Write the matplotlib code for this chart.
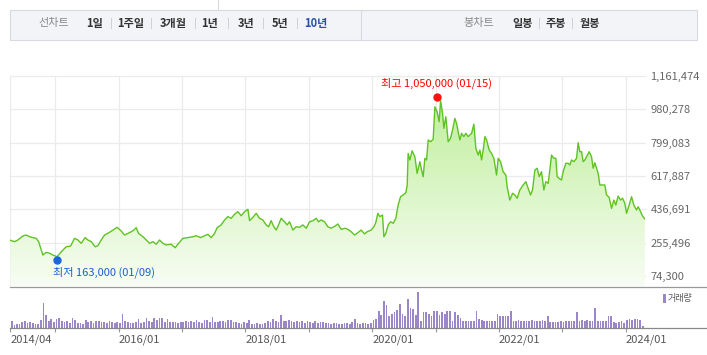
import numpy as np
import matplotlib
matplotlib.use("Agg")
import matplotlib.pyplot as plt
from matplotlib.colors import LinearSegmentedColormap
from matplotlib.patches import Rectangle
from matplotlib.lines import Line2D

plt.rcParams['font.family'] = ['Noto Sans CJK KR', 'DejaVu Sans']

W, H = 707, 355
def fx(px): return px / W
def fy(py): return 1 - py / H

# ---- data (decimal years, price in thousand won) ----
t_price = [2014.29, 2014.356, 2014.408, 2014.487, 2014.539, 2014.593, 2014.645, 2014.697, 2014.735, 2014.776,
           2014.803, 2014.855, 2014.908, 2014.961, 2015.028, 2015.092, 2015.170, 2015.240, 2015.303, 2015.355,
           2015.407, 2015.470, 2015.513, 2015.565, 2015.628, 2015.671, 2015.723, 2015.776, 2015.855, 2015.907,
           2015.975, 2016.038, 2016.092, 2016.144, 2016.196, 2016.239, 2016.275, 2016.313, 2016.381, 2016.433,
           2016.487, 2016.539, 2016.591, 2016.644, 2016.696, 2016.749, 2016.827, 2016.890, 2016.944, 2017.012,
           2017.091, 2017.170, 2017.222, 2017.291, 2017.354, 2017.407, 2017.459, 2017.512, 2017.553, 2017.616,
           2017.670, 2017.722, 2017.774, 2017.828, 2017.880, 2017.932, 2017.986, 2018.038, 2018.065, 2018.117,
           2018.169, 2018.222, 2018.274, 2018.327, 2018.364, 2018.405, 2018.448, 2018.484, 2018.522, 2018.563,
           2018.617, 2018.658, 2018.696, 2018.748, 2018.800, 2018.854, 2018.906, 2018.958, 2019.011, 2019.064,
           2019.116, 2019.153, 2019.194, 2019.248, 2019.300, 2019.352, 2019.415, 2019.458, 2019.510, 2019.573,
           2019.616, 2019.668, 2019.721, 2019.774, 2019.826, 2019.879, 2019.920, 2019.983, 2020.026, 2020.053,
           2020.089, 2020.121, 2020.163, 2020.184, 2020.215, 2020.252, 2020.290, 2020.331, 2020.373, 2020.409,
           2020.447, 2020.488, 2020.531, 2020.552, 2020.567, 2020.594, 2020.630, 2020.673, 2020.709, 2020.752,
           2020.779, 2020.804, 2020.831, 2020.858, 2020.883, 2020.921, 2020.962, 2020.989, 2021.025, 2021.057,
           2021.079, 2021.110, 2021.131, 2021.162, 2021.199, 2021.236, 2021.268, 2021.304, 2021.331, 2021.356,
           2021.383, 2021.410, 2021.446, 2021.478, 2021.514, 2021.568, 2021.604, 2021.636, 2021.672, 2021.699,
           2021.726, 2021.751, 2021.778, 2021.805, 2021.846, 2021.883, 2021.920, 2021.962, 2021.988, 2022.025,
           2022.066, 2022.109, 2022.129, 2022.172, 2022.215, 2022.251, 2022.287, 2022.330, 2022.382, 2022.425,
           2022.461, 2022.499, 2022.530, 2022.567, 2022.603, 2022.635, 2022.672, 2022.709, 2022.740, 2022.777,
           2022.803, 2022.830, 2022.867, 2022.898, 2022.919, 2022.950, 2022.988, 2023.013, 2023.056, 2023.092,
           2023.119, 2023.146, 2023.182, 2023.225, 2023.250, 2023.277, 2023.304, 2023.329, 2023.356, 2023.383,
           2023.424, 2023.461, 2023.487, 2023.514, 2023.540, 2023.566, 2023.593, 2023.635, 2023.671, 2023.698,
           2023.739, 2023.777, 2023.813, 2023.845, 2023.881, 2023.919, 2023.951, 2023.987, 2024.014, 2024.055,
           2024.093, 2024.129, 2024.171, 2024.197, 2024.235, 2024.266, 2024.303]
price_k = [268, 261, 270, 292, 297, 288, 283, 279, 261, 216,
           188, 203, 198, 188, 179, 206, 233, 237, 279, 270,
           252, 283, 270, 261, 233, 239, 270, 297, 312, 324,
           339, 319, 297, 306, 315, 324, 337, 306, 288, 270,
           252, 261, 247, 270, 252, 243, 247, 228, 252, 279,
           283, 288, 293, 283, 293, 301, 283, 306, 337, 352,
           379, 397, 388, 410, 424, 402, 424, 437, 375, 393,
           415, 388, 379, 352, 342, 375, 342, 324, 352, 388,
           369, 352, 369, 324, 342, 339, 352, 334, 369, 375,
           388, 369, 379, 369, 342, 334, 346, 357, 328, 334,
           328, 315, 297, 310, 324, 303, 315, 324, 342, 361,
           415, 397, 406, 288, 306, 352, 369, 361, 388, 460,
           505, 515, 527, 569, 741, 705, 755, 723, 632, 696,
           650, 614, 714, 705, 814, 804, 817, 994, 967, 913,
           1027, 959, 877, 940, 804, 823, 868, 931, 904, 859,
           814, 850, 832, 850, 832, 850, 900, 768, 732, 759,
           705, 759, 832, 814, 759, 741, 714, 623, 714, 696,
           641, 623, 560, 487, 524, 515, 497, 542, 569, 587,
           551, 515, 542, 650, 660, 614, 641, 542, 587, 578,
           650, 732, 714, 714, 614, 605, 596, 641, 687, 687,
           678, 705, 696, 714, 799, 750, 750, 696, 705, 723,
           750, 723, 660, 690, 660, 632, 569, 569, 569, 515,
           502, 442, 487, 460, 509, 487, 497, 469, 415, 460,
           505, 460, 433, 451, 424, 400, 385]

# semi-monthly volume (relative units), 2014/04 .. 2024/04
volume = [6.7, 3.3, 4, 4, 6.5, 6.7, 5.5, 6, 5, 4,
          4, 8, 25, 13, 6.7, 9, 6, 9, 10, 7,
          6, 6.7, 5, 10, 8, 5, 5, 4.5, 8, 6,
          7.3, 5.5, 6.7, 7, 6, 6.5, 5.5, 7, 6, 5,
          6, 5.5, 14, 6.7, 6, 5, 5.5, 6, 9, 5,
          6, 10, 7, 6, 10, 8, 10, 10, 6, 9,
          6, 5.7, 6, 5, 6, 5.7, 7, 6, 7, 6,
          7.7, 6.5, 5, 8.3, 7.7, 6, 11, 6.5, 6, 6.7,
          7, 6, 8.3, 8.3, 6, 6.5, 5, 4.5, 6, 5,
          8.3, 4.5, 4, 5, 4.3, 4, 5, 7, 6.5, 9,
          7, 6, 12.7, 7, 6.7, 8, 6.7, 6.5, 7, 6,
          6.7, 5, 6.7, 6, 5.5, 6.7, 5, 6, 6, 5.5,
          5.5, 4.5, 5, 5.5, 4.5, 4, 5, 5, 4.5, 6,
          9, 5, 4.5, 5, 5.5, 4, 5.5, 8, 9, 17,
          13, 27, 23, 12, 14, 16, 18, 24, 14, 12,
          29, 20, 19, 12.7, 36, 7, 16, 16, 14, 12,
          17, 17, 13, 16, 14, 17, 17, 7, 16, 13,
          10, 7, 7, 6.7, 7, 7, 17, 9, 8, 7,
          7, 7, 6.7, 7, 14, 12, 12, 12, 12, 17,
          7, 7, 8, 7, 7.5, 7, 7, 8, 6.7, 7,
          7, 8, 6.7, 12, 6, 6, 5.7, 6, 6.7, 6,
          7, 7, 6.7, 7, 16, 7, 7.7, 7, 8, 7,
          7, 20, 7, 6.7, 7, 7, 12, 12, 6, 5,
          6, 7, 5, 8.3, 9, 8.3, 9, 8.7, 8, 2]

ytick_vals = [74300, 255496, 436691, 617887, 799083, 980278, 1161474]
xtick_pos = [2014.29, 2015, 2016, 2017, 2018, 2019, 2020, 2021, 2022, 2023, 2024]
xtick_labels = ["2014/04", "", "2016/01", "", "2018/01", "", "2020/01", "", "2022/01", "", "2024/01"]
hi_t, hi_v, hi_label = 2021.015, 1050000, "최고 1,050,000 (01/15)"
lo_t, lo_v, lo_label = 2015.019, 163000, "최저 163,000 (01/09)"
line_tabs = ["1일", "1주일", "3개월", "1년", "3년", "5년", "10년"]
candle_tabs = ["일봉", "주봉", "월봉"]

t = np.array(t_price)
p = np.array(price_k) * 1000
X0, X1 = 2014.29, 2024.305
Y0, Y1 = 19941, 1161474

fig = plt.figure(figsize=(W / 100, H / 100), dpi=100)

# ---- top tab bar ----
fig.add_artist(Rectangle((fx(10), fy(40)), fx(687), 30 / H, transform=fig.transFigure,
                         facecolor="#f2f4f7", edgecolor="#d7dae0", lw=0.8))
fig.add_artist(Line2D([fx(361), fx(361)], [fy(11), fy(39)], transform=fig.transFigure, color="#d7dae0", lw=0.8))
fig.add_artist(Line2D([fx(218), fx(218)], [fy(0), fy(10)], transform=fig.transFigure, color="#d7dae0", lw=0.8))
ty = fy(23)
fig.text(fx(53.5), ty, "선차트", ha="center", va="center", fontsize=8, color="#8a8a8a")
for lab, cx in zip(line_tabs, [95, 131, 173, 210, 246, 280, 315.5]):
    fig.text(fx(cx), ty, lab, ha="center", va="center", fontsize=8, fontweight="bold",
             color="#2b4fa8" if lab == "10년" else "#333333")
for sx in [110.5, 151, 195, 227.5, 263, 296.5, 539, 572]:
    fig.add_artist(Line2D([fx(sx), fx(sx)], [fy(18), fy(28)], transform=fig.transFigure, color="#d0d0d0", lw=0.7))
fig.text(fx(478.5), ty, "봉차트", ha="center", va="center", fontsize=8, color="#8a8a8a")
for lab, cx in zip(candle_tabs, [523, 556, 590]):
    fig.text(fx(cx), ty, lab, ha="center", va="center", fontsize=8, fontweight="bold", color="#333333")

# ---- price panel ----
ax = fig.add_axes([fx(10.4), fy(286), (645 - 10.4) / W, (286 - 76) / H])
cmap = LinearSegmentedColormap.from_list("g", ["#f8fdf4", "#b9ed92"])
img = ax.imshow(np.linspace(0, 1, 256).reshape(-1, 1), extent=[X0, X1, Y0, Y1], origin="lower",
                aspect="auto", cmap=cmap, zorder=1)
poly = ax.fill_between(t, p, Y0, facecolor="none", edgecolor="none")
img.set_clip_path(poly.get_paths()[0], transform=ax.transData)
ax.plot(t, p, color="#5fc322", lw=1.0, zorder=3)
ax.set_xlim(X0, X1)
ax.set_ylim(Y0, Y1)
for yv in ytick_vals:
    ax.axhline(yv, color="#ebebeb", lw=0.9, zorder=0, clip_on=False)
for xv in xtick_pos:
    ax.axvline(xv, color="#ebebeb", lw=0.9, zorder=0)
for s in ax.spines.values():
    s.set_visible(False)
ax.set_xticks([])
ax.yaxis.tick_right()
ax.set_yticks(ytick_vals)
ax.set_yticklabels([f"{v:,}" for v in ytick_vals], fontsize=8, color="#666666")
ax.tick_params(axis="y", length=0, pad=4)

ax.plot([hi_t], [hi_v], "o", color="#ff1010", ms=5, zorder=5, clip_on=False)
ax.text(hi_t, 1123000, hi_label, ha="center", va="center", fontsize=8, color="#ff0000", zorder=5)
ax.plot([lo_t], [lo_v], "o", color="#1a66dd", ms=5, zorder=5, clip_on=False)
ax.text(2014.96, 96000, lo_label, ha="left", va="center", fontsize=8, color="#1a5fd0", zorder=5)

# ---- volume panel ----
vx = X0 + (np.arange(len(volume)) + 0.5) / 24
axv = fig.add_axes([fx(10.4), fy(328), (645 - 10.4) / W, (328 - 287) / H])
axv.bar(vx, volume, width=0.65 / 24, color="#9a86c8", linewidth=0)
axv.set_xlim(X0, X1)
axv.set_ylim(0, 41)
for s in axv.spines.values():
    s.set_visible(False)
axv.set_yticks([])
axv.set_xticks(xtick_pos)
axv.set_xticklabels(xtick_labels, fontsize=8, color="#555555", ha="left")
axv.tick_params(axis="x", length=3, color="#999999", pad=1.5)

fig.add_artist(Line2D([fx(10), fx(707)], [fy(286.5), fy(286.5)], transform=fig.transFigure, color="#999999", lw=0.9))
fig.add_artist(Line2D([fx(10), fx(707)], [fy(328), fy(328)], transform=fig.transFigure, color="#888888", lw=0.9))
fig.add_artist(Rectangle((fx(663), fy(303)), 3 / W, 9 / H, transform=fig.transFigure,
                         facecolor="#9a86c8", edgecolor="none"))
fig.text(fx(668), fy(298), "거래량", ha="left", va="center", fontsize=6.5, color="#555555")

fig.savefig("out.png", dpi=100)
